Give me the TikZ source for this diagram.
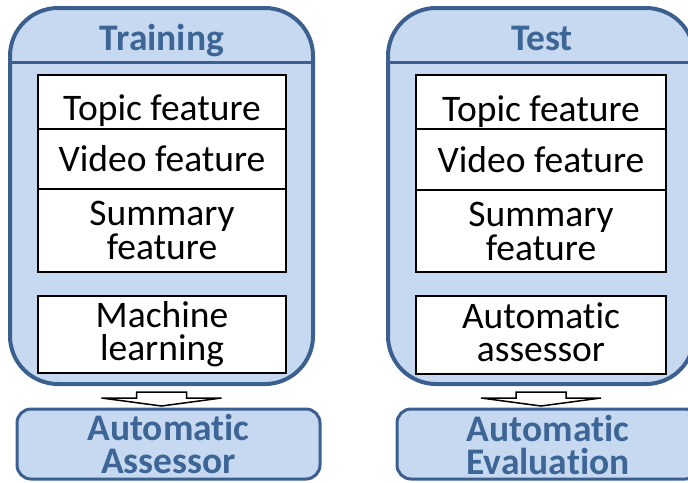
\documentclass[tikz,border=0pt]{standalone}
\usepackage{fontspec}
\setmainfont{Carlito}[Ligatures=NoCommon]
\definecolor{paleblue}{HTML}{C6D9F1}
\definecolor{edgeblue}{HTML}{3B5F8E}
\definecolor{headblue}{HTML}{3D6596}
\begin{document}
\begin{tikzpicture}[x=1pt,y=-1pt,
  panel/.style={draw=edgeblue, line width=4pt, fill=paleblue, rounded corners=48pt,
    minimum height=376pt, inner sep=0pt},
  divider/.style={draw=edgeblue, line width=3pt},
  paneltitle/.style={anchor=base, text=headblue, font=\fontsize{37.5}{33}\selectfont\bfseries},
  featbox/.style={draw=black, line width=2pt, fill=white, minimum width=248pt, inner sep=0pt},
  feattext/.style={anchor=base, inner sep=0pt, font=\fontsize{37.5}{33.5}\selectfont},
  resultbox/.style={draw=edgeblue, line width=3pt, fill=paleblue, rounded corners=14pt,
    minimum width=303pt, minimum height=70pt, inner sep=0pt},
  resulttext/.style={anchor=base, inner sep=0pt, text=headblue,
    font=\fontsize{37.5}{33}\selectfont\bfseries},
  flatarrow/.style={draw=black, line width=1.5pt, fill=white, line join=miter}
]
\useasboundingbox (0,0) rectangle (688,482);
\clip (0,0) rectangle (688,482);

% ---- training panel ----
\node[panel, minimum width=303pt] (lp) at (161.5,196) {};
\draw[divider] (lp.west |- 0,62) -- (lp.east |- 0,62);
\node[paneltitle] (lt) at (162,50) {Training};
\node[featbox, minimum height=54pt] (ltopic) at (162,102) {};
\node[featbox, minimum height=60pt] (lvideo) at (162,159) {};
\node[featbox, minimum height=83pt] (lsum) at (162,230.5) {};
\node[featbox, minimum height=77pt] (lml) at (162,334.5) {};
\node[feattext] (ltopict) at (ltopic.center |- 0,120) {Topic feature};
\node[feattext] (lvideot) at (lvideo.center |- 0,171) {Video feature};
\node[feattext] (lsumt1) at (lsum.center |- 0,225) {Summary};
\node[feattext] (lsumt2) at (lsum.center |- 0,259) {feature};
\node[feattext] (lmlt1) at (lml.center |- 0,327) {Machine};
\node[feattext] (lmlt2) at (lml.center |- 0,360) {learning};
\node[resultbox] (lres) at (168.5,444) {};
\node[resulttext] (lrest1) at (lres.center |- 0,440) {Automatic};
\node[resulttext] (lrest2) at (lres.center |- 0,473) {Assessor};

% ---- test panel ----
\node[panel, minimum width=306pt] (rp) at (541,196) {};
\draw[divider] (rp.west |- 0,62) -- (rp.east |- 0,62);
\node[paneltitle] (rt) at (542,50) {Test};
\node[featbox, minimum height=54pt, minimum width=250pt] (rtopic) at (541,102) {};
\node[featbox, minimum height=61pt, minimum width=250pt] (rvideo) at (541,159.5) {};
\node[featbox, minimum height=82pt, minimum width=250pt] (rsum) at (541,231) {};
\node[featbox, minimum height=78pt, minimum width=250pt] (rauto) at (541,335) {};
\node[feattext] (rtopict) at (rtopic.center |- 0,121) {Topic feature};
\node[feattext] (rvideot) at (rvideo.center |- 0,172) {Video feature};
\node[feattext] (rsumt1) at (rsum.center |- 0,226) {Summary};
\node[feattext] (rsumt2) at (rsum.center |- 0,260) {feature};
\node[feattext] (rautot1) at (rauto.center |- 0,328) {Automatic};
\node[feattext] (rautot2) at (rauto.center |- 0,361) {assessor};
\node[resultbox, minimum width=302pt] (rres) at (548,444) {};
\node[resulttext] (rrest1) at (rres.center |- 0,441) {Automatic};
\node[resulttext] (rrest2) at (rres.center |- 0,474) {Evaluation};

% ---- flat block arrows from each panel to its result ----
\foreach \src in {lp,rp}{
  \draw[flatarrow]
    ([shift={(-25,6)}]\src.south) -- ([shift={(25,6)}]\src.south)
    -- ([shift={(25,12)}]\src.south) -- ([shift={(60,12)}]\src.south)
    -- ([shift={(0,20)}]\src.south) -- ([shift={(-60,12)}]\src.south)
    -- ([shift={(-25,12)}]\src.south) -- cycle;
}
\end{tikzpicture}
\end{document}
